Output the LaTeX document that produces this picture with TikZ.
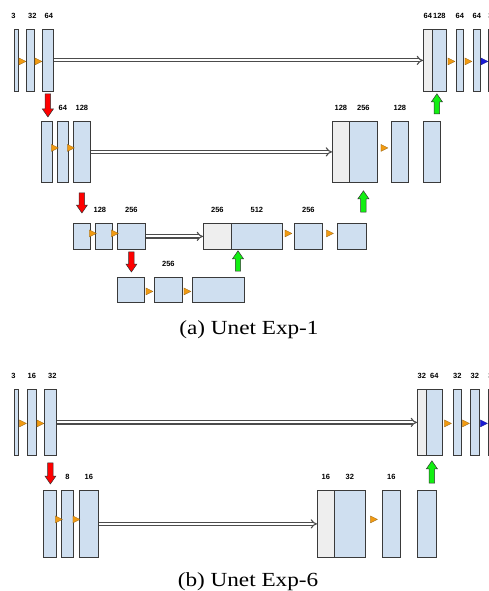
\documentclass[tikz,border=0pt]{standalone}
\usepackage{fontspec}
\setsansfont{Liberation Sans}
\newfontfamily\capfont[FakeStretch=1.16]{Liberation Serif}
\usepackage{tikz}
\usetikzlibrary{arrows.meta,calc}
\definecolor{lyC}{HTML}{CFDFF0}
\definecolor{catC}{HTML}{EEEEEE}
\definecolor{edgeC}{HTML}{3A3A3A}
\definecolor{reluC}{HTML}{F29B12}
\definecolor{outC}{HTML}{1A1AD6}
\definecolor{dnC}{HTML}{FF0000}
\definecolor{upC}{HTML}{12F012}

\begin{document}
\begin{tikzpicture}[x=1pt,y=-1pt,
  ly/.style={draw=edgeC,line width=0.8pt,fill=lyC,inner sep=0pt,anchor=north west,minimum width=#1},
  cat/.style={ly=#1,fill=catC},
  every label/.style={font=\sffamily\bfseries\fontsize{7.5}{8}\selectfont,inner sep=1pt},
  label distance=9.5pt,
  skipc/.style={draw=black!70,line width=1.1pt,double=white,double distance=2pt,-{Implies}},
  relu/.style={fill=reluC,draw=reluC!60!black,line width=0.3pt},
  blk/.style={draw=black!80,line width=0.5pt,to path={let \p1=(\tikztostart),\p2=(\tikztotarget) in
    (\x1-2.7pt,\y1) -- (\x1+2.7pt,\y1) -- (\x1+2.7pt,\y2#1) -- (\x1+5.5pt,\y2#1) -- (\x1,\y2)
    -- (\x1-5.5pt,\y2#1) -- (\x1-2.7pt,\y2#1) -- cycle}},
  pool/.style={blk=+8pt,fill=dnC},
  upsmp/.style={blk=-8pt,fill=upC}]
\useasboundingbox (0,0) rectangle (489,591);
\def\hA{62}\def\hB{61}\def\hC{26}\def\hD{25}\def\hE{66}\def\hF{67}

% (a) Unet Exp-1
\node[ly=4,minimum height=\hA,label={[xshift=-3]above:3}] (a1) at (14,29) {};
\node[ly=8,minimum height=\hA,label={[xshift=2]above:32}] (a2) at (26,29) {};
\node[ly=11,minimum height=\hA,label={[xshift=1]above:64}] (a3) at (42,29) {};
\node[cat=9,minimum height=\hA,label=above:64] (a4) at (423,29) {};
\node[ly=14,minimum height=\hA,label=above:128] (a5) at (432,29) {};
\node[ly=7,minimum height=\hA,label=above:64] (a6) at (456,29) {};
\node[ly=7,minimum height=\hA,label=above:64] (a7) at (473,29) {};
\node[ly=4,minimum height=\hA,label=above:3] (a8) at (488,29) {};

\node[ly=11,minimum height=\hB] (b1) at (41,121) {};
\node[ly=11,minimum height=\hB,label=above:64] (b2) at (57,121) {};
\node[ly=17,minimum height=\hB,label=above:128] (b3) at (73,121) {};
\node[cat=17,minimum height=\hB,label=above:128] (b4) at (332,121) {};
\node[ly=28,minimum height=\hB,label=above:256] (b5) at (349,121) {};
\node[ly=17,minimum height=\hB,label=above:128] (b6) at (391,121) {};
\node[ly=17,minimum height=\hB] (b7) at (423,121) {};

\node[ly=17,minimum height=\hC] (c1) at (73,223) {};
\node[ly=17,minimum height=\hC,label={[xshift=-4]above:128}] (c2) at (95,223) {};
\node[ly=28,minimum height=\hC,label=above:256] (c3) at (117,223) {};
\node[cat=28,minimum height=\hC,label=above:256] (c4) at (203,223) {};
\node[ly=51,minimum height=\hC,label=above:512] (c5) at (231,223) {};
\node[ly=28,minimum height=\hC,label=above:256] (c6) at (294,223) {};
\node[ly=29,minimum height=\hC] (c7) at (337,223) {};

\node[ly=27,minimum height=\hD] (d1) at (117,277) {};
\node[ly=28,minimum height=\hD,label=above:256] (d2) at (154,277) {};
\node[ly=52,minimum height=\hD] (d3) at (192,277) {};

\node[font=\capfont\fontsize{20}{24}\selectfont,anchor=base] (capA) at (249,334) {(a) Unet Exp-1};

% (b) Unet Exp-6
\node[ly=4,minimum height=\hE,label={[xshift=-3]above:3}] (e1) at (14,389) {};
\node[ly=9,minimum height=\hE,label=above:16] (e2) at (27,389) {};
\node[ly=12,minimum height=\hE,label={[xshift=2]above:32}] (e3) at (44,389) {};
\node[cat=9,minimum height=\hE,label=above:32] (e4) at (417,389) {};
\node[ly=16,minimum height=\hE,label=above:64] (e5) at (426,389) {};
\node[ly=8,minimum height=\hE,label=above:32] (e6) at (453,389) {};
\node[ly=9,minimum height=\hE,label=above:32] (e7) at (470,389) {};
\node[ly=4,minimum height=\hE,label=above:3] (e8) at (488,389) {};

\node[ly=13,minimum height=\hF] (f1) at (43,490) {};
\node[ly=12,minimum height=\hF,label=above:8] (f2) at (61,490) {};
\node[ly=19,minimum height=\hF,label=above:16] (f3) at (79,490) {};
\node[cat=17,minimum height=\hF,label=above:16] (f4) at (317,490) {};
\node[ly=31,minimum height=\hF,label=above:32] (f5) at (334,490) {};
\node[ly=18,minimum height=\hF,label=above:16] (f6) at (382,490) {};
\node[ly=19,minimum height=\hF] (f7) at (417,490) {};

\node[font=\capfont\fontsize{20}{24}\selectfont,anchor=base] (capB) at (248,586) {(b) Unet Exp-6};

% activations
\foreach \l/\r/\o in {a1/a2/1,a2/a3/1,a5/a6/1,a6/a7/1,b1/b2/-4,b2/b3/-4,b5/b6/-4,c1/c2/-3,c2/c3/-3,c5/c6/-3,c6/c7/-3,
  d1/d2/1.5,d2/d3/1.5,e1/e2/1,e2/e3/1,e5/e6/1,e6/e7/1,f1/f2/-4.5,f2/f3/-4.5,f5/f6/-4.5}
  \filldraw[relu] ($(\l.east)!.5!(\r.west)+(0,\o)$) +(-3.5,-3.5) -- +(3.5,0) -- +(-3.5,3.5) -- cycle;
\foreach \l/\r in {a7/a8,e7/e8}
  \filldraw[relu,fill=outC,draw=outC!60!black] ($(\l.east)!.5!(\r.west)+(0,1)$) +(-3.5,-3.5) -- +(3.5,0) -- +(-3.5,3.5) -- cycle;

% skip connections
\draw[skipc] (a3) -- (a4);
\draw[skipc] (b3) -- (b4);
\draw[skipc] (c3) -- (c4);
\draw[skipc] (e3) -- (e4);
\draw[skipc] (f3) -- (f4);

% down / up
\path[pool] ($(a3.south)+(0,2)$) to ($(b1.north)+(0,-4)$);
\path[pool] ($(b3.south)+(0,10)$) to ($(c1.north)+(0,-10)$);
\path[pool] ($(c3.south)+(0,2)$) to ($(d1.north)+(0,-5)$);
\path[pool] ($(e3.south)+(0,7)$) to ($(f1.north)+(0,-6)$);
\path[upsmp] ($(c5.south west |- d3.north)+(7,-6)$) to ($(c5.south west)+(7,1)$);
\path[upsmp] ($(b5.south |- c7.north)+(0,-11)$) to ($(b5.south)+(0,8)$);
\path[upsmp] ($(b7.north)+(5,-7)$) to ($(b7.north |- a5.south)+(5,2)$);
\path[upsmp] ($(f7.north)+(5,-7)$) to ($(f7.north |- e5.south)+(5,5)$);
\end{tikzpicture}
\end{document}
